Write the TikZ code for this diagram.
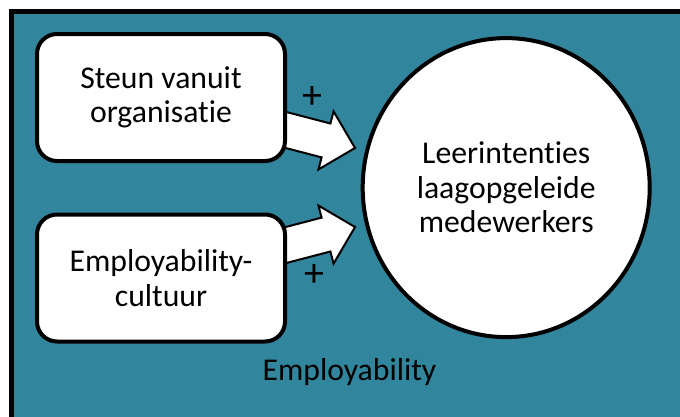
\documentclass[tikz,border=0pt]{standalone}
\usepackage{fontspec}
\setmainfont[Ligatures=NoCommon]{Carlito}
\usetikzlibrary{shapes.geometric}
\definecolor{panel}{RGB}{49,133,156}
% a broad block arrow: #1 start point, #2 angle, #3 length
\newcommand\widearrow[3]{%
  \draw[fatarrow, shift={(#1)}, rotate=#2]
    (0,-17.5) -- ({#3-30},-17.5) -- ({#3-30},-30) -- (#3,0)
    -- ({#3-30},30) -- ({#3-30},17.5) -- (0,17.5) -- cycle;}
\begin{document}
\begin{tikzpicture}[x=1pt,y=-1pt,
  labeltext/.style={font=\fontsize{31.7}{34.5}\selectfont, align=center, text=black},
  factor/.style={labeltext, draw=black, fill=white, line width=4pt,
    rounded corners=20pt, minimum width=248pt, minimum height=127pt, inner sep=0pt},
  outcome/.style={labeltext, draw=black, fill=white, line width=4pt, ellipse,
    minimum width=287pt, minimum height=299pt, inner sep=0pt},
  fatarrow/.style={draw=black, fill=white, line width=2pt, line join=miter},
  sign/.style={font=\fontsize{40}{40}\selectfont, text=black, inner sep=0pt}]
\useasboundingbox (0,0) rectangle (680,416);
\clip (0,0) rectangle (680,416);
\fill[white] (0,0) rectangle (680,416);
% teal frame, running past the right and bottom edges
\draw[line width=4.5pt, fill=panel] (11.5,11.5) rectangle (700,440);

% arrow start points
\coordinate (a1) at (278.3,128);
\coordinate (a2) at (278.3,247);
\widearrow{a1}{-14.6}{79.3}
\widearrow{a2}{14.6}{79.3}

\node[factor] (steun) at (161,97.5) {Steun vanuit\\organisatie};
\node[factor] (cultuur) at (161,278) {Employability-\\cultuur};
\node[outcome] (leer) at (506.2,187.6) {Leerintenties\\laagopgeleide\\medewerkers};

\node[sign] (p1) at (312.5,97.5) {+};
\node[sign] (p2) at (314,275.5) {+};
\node[labeltext, anchor=base] (emp) at (349.5,380) {Employability};
\end{tikzpicture}
\end{document}
